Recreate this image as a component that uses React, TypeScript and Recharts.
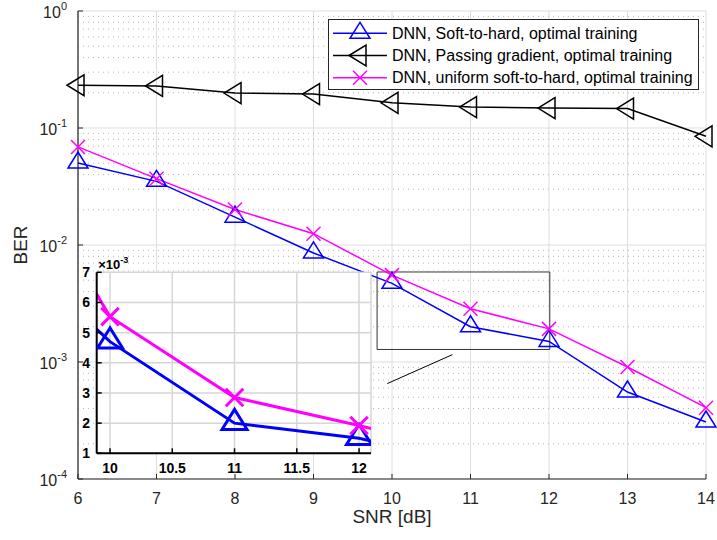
import React from 'react';
import { LineChart, Line, XAxis, YAxis, CartesianGrid, ReferenceArea, ReferenceLine, Legend } from 'recharts';

// ---------- data ----------
const snr = [6, 7, 8, 9, 10, 11, 12, 13, 14];
const berSoftToHard = [0.0502, 0.035, 0.0173, 0.00855, 0.0047, 0.002, 0.0015, 0.000554, 0.000307];
const berPassingGradient = [0.232, 0.229, 0.199, 0.195, 0.164, 0.151, 0.148, 0.1465, 0.0849];
const berUniformSoftToHard = [0.0689, 0.0369, 0.0201, 0.0125, 0.00553, 0.00285, 0.00192, 0.000906, 0.000407];
const seriesNames = [
  'DNN, Soft-to-hard, optimal training',
  'DNN, Passing gradient, optimal training',
  'DNN, uniform soft-to-hard, optimal training',
];
const seriesColors = ['#0000ff', '#000000', '#ff00ff'];
const seriesKeys = ['soft', 'pass', 'uni'];
const seriesMarkers = ['triUp', 'triLeft', 'x'];

const xTicks = [6, 7, 8, 9, 10, 11, 12, 13, 14];
const yDomain = [1e-4, 1];
const yMajorTicks = [1e-4, 1e-3, 1e-2, 1e-1, 1];
const yMinorTicks = [1e-4, 1e-3, 1e-2, 1e-1].flatMap((d) => [2, 3, 4, 5, 6, 7, 8, 9].map((k) => k * d));

const insetXDomain = [9.893, 12.096];
const insetXTicks = [10, 10.5, 11, 11.5, 12];
const insetYDomain = [0.001, 0.007];
const insetYTicks = [0.001, 0.002, 0.003, 0.004, 0.005, 0.006, 0.007];

// zoom annotation (data coordinates)
const zoomBox = { x1: 9.81, x2: 12.01, y1: 0.00128, y2: 0.00588 };
const connector = [
  { x: 9.94, y: 0.000654 },
  { x: 10.77, y: 0.001156 },
];

const mainData = snr.map((s, i) => ({
  snr: s,
  soft: berSoftToHard[i],
  pass: berPassingGradient[i],
  uni: berUniformSoftToHard[i],
}));

const FONT = "'Liberation Sans', Arial, Helvetica, sans-serif";
const AX = '#262626';

// ---------- markers ----------
function Marker({ kind, cx, cy, color, s = 1, sw = 1.5 }: any) {
  if (cx == null || cy == null) return null;
  if (kind === 'triUp') {
    return (
      <polygon
        points={`${cx},${cy - 11 * s} ${cx - 10 * s},${cy + 5 * s} ${cx + 10 * s},${cy + 5 * s}`}
        fill="none"
        stroke={color}
        strokeWidth={sw}
      />
    );
  }
  if (kind === 'triLeft') {
    return (
      <polygon
        points={`${cx - 11 * s},${cy} ${cx + 6 * s},${cy - 10.5 * s} ${cx + 6 * s},${cy + 10.5 * s}`}
        fill="none"
        stroke={color}
        strokeWidth={sw}
      />
    );
  }
  const r = 7 * s;
  return (
    <g stroke={color} strokeWidth={sw}>
      <line x1={cx - r} y1={cy - r} x2={cx + r} y2={cy + r} />
      <line x1={cx - r} y1={cy + r} x2={cx + r} y2={cy - r} />
    </g>
  );
}

const makeDot = (kind: string, color: string, s = 1, sw = 1.5) => (p: any) =>
  <Marker key={`${kind}-${p.index}`} kind={kind} cx={p.cx} cy={p.cy} color={color} s={s} sw={sw} />;

// ---------- ticks ----------
const PowTick = (props: any) => {
  const { x, y, payload } = props;
  const exp = Math.round(Math.log10(payload.value));
  return (
    <text x={x} y={y + 6.5} textAnchor="end" fill={AX} fontSize={16} fontFamily={FONT}>
      10
      <tspan dy={-8} fontSize={11}>
        {exp}
      </tspan>
    </text>
  );
};

// ---------- legend ----------
const LegendBox = () => (
  <svg width={372} height={72} style={{ display: 'block' }}>
    <rect x={0.5} y={0.5} width={370} height={70} fill="#fff" stroke={AX} strokeWidth={1} />
    {seriesNames.map((name, i) => {
      const cy = 14.3 + i * 22.2;
      return (
        <g key={name}>
          <line x1={5} x2={59} y1={cy} y2={cy} stroke={seriesColors[i]} strokeWidth={1.5} />
          <Marker kind={seriesMarkers[i]} cx={32} cy={cy} color={seriesColors[i]} />
          <text x={64} y={cy + 5.7} fontSize={16} fill="#000" fontFamily={FONT}>
            {name}
          </text>
        </g>
      );
    })}
  </svg>
);

function MainChart() {
  return (
    <LineChart width={717} height={540} data={mainData} margin={{ top: 11, right: 11, bottom: 11, left: 8 }}>
      <CartesianGrid xAxisId="x" yAxisId="y" stroke="#dedede" />
      {yMinorTicks.map((v) => (
        <ReferenceLine
          key={`mg-${v}`}
          xAxisId="x"
          yAxisId="y"
          y={v}
          stroke="#b4b4b4"
          strokeWidth={1}
          strokeDasharray="1 4"
        />
      ))}

      <XAxis
        xAxisId="xt"
        orientation="top"
        mirror
        height={0}
        type="number"
        dataKey="snr"
        domain={[6, 14]}
        ticks={xTicks}
        tick={false}
        tickSize={5}
        axisLine={{ stroke: AX, strokeWidth: 1.2 }}
        tickLine={{ stroke: AX }}
      />
      <XAxis
        xAxisId="x"
        orientation="bottom"
        height={50}
        type="number"
        dataKey="snr"
        domain={[6, 14]}
        ticks={xTicks}
        tickSize={-5}
        tickMargin={19}
        tick={{ fill: AX, fontSize: 16, fontFamily: FONT }}
        axisLine={{ stroke: AX, strokeWidth: 1.2 }}
        tickLine={{ stroke: AX }}
        label={{
          content: (p: any) => {
            const vb = p.viewBox || { x: 78, y: 479, width: 628 };
            return (
              <text x={vb.x + vb.width / 2} y={vb.y + 44} textAnchor="middle" fontSize={19} fill={AX} fontFamily={FONT}>
                SNR [dB]
              </text>
            );
          },
        }}
      />

      <YAxis
        yAxisId="yl2"
        orientation="left"
        mirror
        width={0}
        type="number"
        scale="log"
        domain={yDomain}
        allowDataOverflow
        ticks={yMinorTicks}
        tick={false}
        tickSize={3}
        axisLine={false}
        tickLine={{ stroke: AX }}
      />
      <YAxis
        yAxisId="y"
        orientation="left"
        width={70}
        type="number"
        scale="log"
        domain={yDomain}
        allowDataOverflow
        ticks={yMajorTicks}
        tick={<PowTick />}
        tickSize={-5}
        tickMargin={16}
        axisLine={{ stroke: AX, strokeWidth: 1.2 }}
        tickLine={{ stroke: AX }}
        label={{
          content: (p: any) => {
            const vb = p.viewBox || { x: 8, y: 11, height: 468 };
            const tx = vb.x + 19;
            const ty = vb.y + vb.height / 2;
            return (
              <text
                x={tx}
                y={ty}
                transform={`rotate(-90 ${tx} ${ty})`}
                textAnchor="middle"
                fontSize={19}
                fill={AX}
                fontFamily={FONT}
              >
                BER
              </text>
            );
          },
        }}
      />
      <YAxis
        yAxisId="yr"
        orientation="right"
        mirror
        width={0}
        type="number"
        scale="log"
        domain={yDomain}
        allowDataOverflow
        ticks={yMajorTicks}
        tick={false}
        tickSize={5}
        axisLine={{ stroke: AX, strokeWidth: 1.2 }}
        tickLine={{ stroke: AX }}
      />
      <YAxis
        yAxisId="yr2"
        orientation="right"
        mirror
        width={0}
        type="number"
        scale="log"
        domain={yDomain}
        allowDataOverflow
        ticks={yMinorTicks}
        tick={false}
        tickSize={3}
        axisLine={false}
        tickLine={{ stroke: AX }}
      />

      <ReferenceArea
        xAxisId="x"
        yAxisId="y"
        x1={zoomBox.x1}
        x2={zoomBox.x2}
        y1={zoomBox.y1}
        y2={zoomBox.y2}
        fill="none"
        fillOpacity={0}
        stroke="#333"
        strokeWidth={1}
      />
      <ReferenceLine xAxisId="x" yAxisId="y" segment={connector} stroke="#000" strokeWidth={1} />

      {seriesKeys.map((k, i) => (
        <Line
          key={k}
          xAxisId="x"
          yAxisId="y"
          dataKey={k}
          name={seriesNames[i]}
          stroke={seriesColors[i]}
          strokeWidth={1.5}
          dot={makeDot(seriesMarkers[i], seriesColors[i])}
          activeDot={false}
          isAnimationActive={false}
        />
      ))}

      <Legend
        layout="horizontal"
        verticalAlign="middle"
        align="center"
        content={() => <LegendBox />}
        wrapperStyle={{ position: 'absolute', left: 328, top: 19, width: 372, height: 72 }}
      />
    </LineChart>
  );
}

function InsetChart() {
  const insetKeys = ['soft', 'uni'];
  const insetIdx = [0, 2];
  return (
    <LineChart width={350} height={240} data={mainData} margin={{ top: 22.3, right: 19, bottom: 6.7, left: 6.7 }}>
      <CartesianGrid xAxisId="ix" yAxisId="iy" fill="#fff" stroke="#d6d6d6" strokeWidth={1.5} />
      <XAxis
        xAxisId="ixt"
        orientation="top"
        mirror
        height={0}
        type="number"
        dataKey="snr"
        domain={insetXDomain}
        allowDataOverflow
        ticks={insetXTicks}
        tick={false}
        tickSize={5}
        axisLine={{ stroke: '#000', strokeWidth: 2 }}
        tickLine={{ stroke: '#000', strokeWidth: 1.5 }}
      />
      <XAxis
        xAxisId="ix"
        orientation="bottom"
        height={30}
        type="number"
        dataKey="snr"
        domain={insetXDomain}
        allowDataOverflow
        ticks={insetXTicks}
        tickSize={-5}
        tickMargin={14.7}
        tick={{ fill: '#000', fontSize: 14, fontWeight: 'bold', fontFamily: FONT }}
        axisLine={{ stroke: '#000', strokeWidth: 2 }}
        tickLine={{ stroke: '#000', strokeWidth: 1.5 }}
      />
      <YAxis
        yAxisId="iy"
        orientation="left"
        width={50}
        type="number"
        domain={insetYDomain}
        allowDataOverflow
        ticks={insetYTicks}
        tickFormatter={(v: number) => String(Math.round(v * 1000))}
        tickSize={-5}
        tickMargin={11.7}
        tick={{ fill: '#000', fontSize: 14, fontWeight: 'bold', fontFamily: FONT }}
        axisLine={{ stroke: '#000', strokeWidth: 2 }}
        tickLine={{ stroke: '#000', strokeWidth: 1.5 }}
        label={{
          content: (p: any) => {
            const vb = p.viewBox || { x: 6.7, y: 22.3, width: 50 };
            return (
              <text x={vb.x + vb.width + 1.5} y={vb.y - 3} fontSize={13} fontWeight="bold" fill="#000" fontFamily={FONT}>
                ×10
                <tspan dy={-6} fontSize={9}>
                  -3
                </tspan>
              </text>
            );
          },
        }}
      />
      <YAxis
        yAxisId="iyr"
        orientation="right"
        mirror
        width={0}
        type="number"
        domain={insetYDomain}
        allowDataOverflow
        ticks={insetYTicks}
        tick={false}
        tickSize={5}
        axisLine={{ stroke: '#000', strokeWidth: 2 }}
        tickLine={{ stroke: '#000', strokeWidth: 1.5 }}
      />
      {insetKeys.map((k, j) => {
        const i = insetIdx[j];
        return (
          <Line
            key={k}
            xAxisId="ix"
            yAxisId="iy"
            dataKey={k}
            stroke={seriesColors[i]}
            strokeWidth={3}
            dot={makeDot(seriesMarkers[i], seriesColors[i], 1.25, 3)}
            activeDot={false}
            isAnimationActive={false}
          />
        );
      })}
    </LineChart>
  );
}

export default function App() {
  return (
    <div style={{ position: 'absolute', left: 0, top: 0, width: 717, height: 540, background: '#fff', fontFamily: FONT }}>
      <div style={{ position: 'absolute', left: 0, top: 0 }}>
        <MainChart />
      </div>
      <div style={{ position: 'absolute', left: 40, top: 250 }}>
        <InsetChart />
      </div>
    </div>
  );
}
